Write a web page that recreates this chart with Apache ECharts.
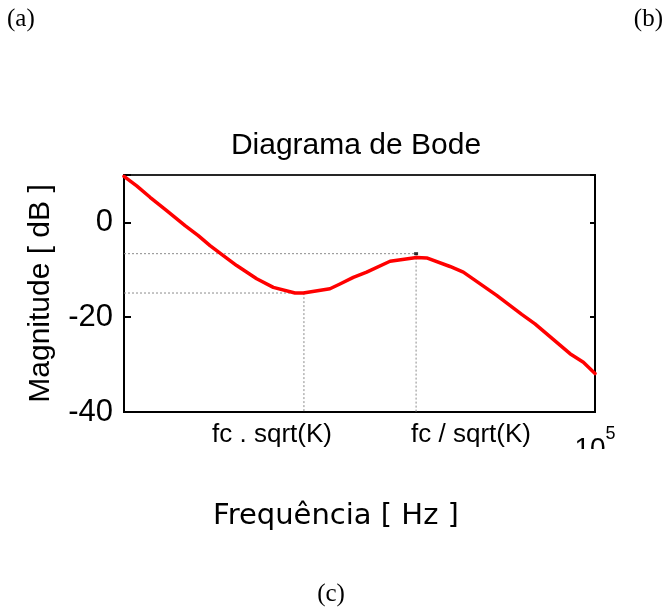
<!DOCTYPE html>
<html>
<head>
<meta charset="utf-8">
<script src="https://cdn.jsdelivr.net/npm/echarts@6/dist/echarts.min.js"></script>
<style>
  html, body { margin: 0; padding: 0; background: #fff; }
  #chart { width: 668px; height: 612px; }
</style>
</head>
<body>
<div id="chart"></div>
<script>
// ---- data ----
const freqHz = [10000, 10640, 11360, 12320, 13480, 14380, 15230, 16250, 17350, 19130, 20750,
                23070, 24030, 27370, 28740, 30680, 32750, 36720, 41820, 43920, 49220, 52530,
                61840, 69890, 74570, 88500, 94460, 100000];
const magnitudeDb = [9.7, 7.7, 5.3, 2.5, -0.7, -2.8, -4.9, -7.0, -9.1, -11.9, -13.7,
                     -14.9, -14.9, -14.0, -13.0, -11.6, -10.5, -8.2, -7.4, -7.5, -9.3, -10.5,
                     -15.4, -19.4, -21.4, -27.7, -29.5, -31.9];
const fLow = 24100;      // fc . sqrt(K)
const fHigh = 41700;     // fc / sqrt(K)
const magMin = -14.9;    // dB at fc . sqrt(K)
const magMax = -6.6;     // dB at fc / sqrt(K)
const xMin = 10000, xMax = 100000;
const yMin = -40, yMax = 10, yStep = 20;
const titleText = 'Diagrama de Bode';
const yName = 'Magnitude [ dB ]';
const xName = 'Frequência [ Hz ]';
const markLabels = ['fc . sqrt(K)', 'fc / sqrt(K)'];
const panelLabels = ['(a)', '(b)', '(c)'];

const curve = freqHz.map((f, i) => [f, magnitudeDb[i]]);
const guideHigh = [[xMin, magMax], [fHigh, magMax], [fHigh, yMin]];
const guideLow = [[xMin, magMin], [fLow, magMin], [fLow, yMin]];

const sans = "'Liberation Sans', Arial, sans-serif";
const serif = "'Liberation Serif', 'Times New Roman', serif";

const chart = echarts.init(document.getElementById('chart'), null, { renderer: 'canvas' });
chart.setOption({
  backgroundColor: '#ffffff',
  animation: false,
  title: {
    text: titleText,
    left: 356, top: 131, padding: 0, textAlign: 'center',
    textStyle: { fontFamily: sans, fontSize: 30, fontWeight: 'normal', color: '#000' }
  },
  grid: {
    left: 124, right: 73, top: 175, bottom: 200,
    show: true, borderColor: '#262626', borderWidth: 2, backgroundColor: 'transparent'
  },
  xAxis: {
    type: 'log', logBase: 10, min: xMin, max: xMax,
    axisLine: { onZero: false, lineStyle: { color: '#000', width: 2 } },
    axisTick: { inside: true, length: 6, lineStyle: { color: '#000', width: 2 } },
    minorTick: { show: false },
    splitLine: { show: false },
    axisLabel: {
      margin: 13,
      formatter: v => (Math.abs(v - xMax) < 1 ? '{n|10}{e|5}' : ''),
      rich: {
        n: { fontFamily: sans, fontSize: 28, lineHeight: 48, color: '#000' },
        e: { fontFamily: sans, fontSize: 18, lineHeight: 18, verticalAlign: 'top', color: '#000' }
      }
    }
  },
  yAxis: [{
    type: 'value', min: yMin, max: yMax, interval: yStep,
    name: yName, nameLocation: 'middle', nameGap: 68,
    nameTextStyle: { fontFamily: sans, fontSize: 30, color: '#000' },
    axisLine: { onZero: false, lineStyle: { color: '#000', width: 2 } },
    axisTick: { inside: true, length: 7, lineStyle: { color: '#000', width: 2 } },
    splitLine: { show: false },
    axisLabel: {
      margin: 11, fontFamily: sans, fontSize: 31, color: '#000',
      formatter: v => (v === yMax ? '' : String(v))
    }
  }, {
    type: 'value', min: yMin, max: yMax, interval: yStep, position: 'right',
    axisLine: { show: true, onZero: false, lineStyle: { color: '#000', width: 2 } },
    axisTick: { show: true, inside: true, length: 5, lineStyle: { color: '#000', width: 2 } },
    splitLine: { show: false },
    axisLabel: { show: false }
  }],
  series: [
    {
      type: 'line', data: guideHigh, symbol: 'none', z: 2, silent: true,
      lineStyle: { color: '#8c8c8c', width: 1, type: [2, 2] }
    },
    {
      type: 'line', data: guideLow, symbol: 'none', z: 2, silent: true,
      lineStyle: { color: '#8c8c8c', width: 1, type: [2, 2] }
    },
    {
      type: 'scatter', data: [[fHigh, magMax]], symbol: 'rect', symbolSize: [4, 3], z: 3,
      itemStyle: { color: '#000' }, silent: true
    },
    {
      type: 'line', data: curve, symbol: 'none', z: 5, clip: true,
      lineStyle: { color: '#ff0000', width: 3.5, cap: 'round', join: 'round' }
    }
  ],
  graphic: [
    { type: 'text', z: 50, style: { text: panelLabels[0], x: 7, y: 19, textAlign: 'left', textVerticalAlign: 'middle', font: '25px ' + serif, fill: '#000' } },
    { type: 'text', z: 50, style: { text: panelLabels[1], x: 663, y: 19, textAlign: 'right', textVerticalAlign: 'middle', font: '25px ' + serif, fill: '#000' } },
    { type: 'text', z: 50, style: { text: panelLabels[2], x: 331, y: 594, textAlign: 'center', textVerticalAlign: 'middle', font: '25px ' + serif, fill: '#000' } },
    { type: 'text', z: 50, style: { text: markLabels[0], x: 272, y: 435, textAlign: 'center', textVerticalAlign: 'middle', font: '26px ' + sans, fill: '#000' } },
    { type: 'text', z: 50, style: { text: markLabels[1], x: 471, y: 435, textAlign: 'center', textVerticalAlign: 'middle', font: '26px ' + sans, fill: '#000' } },
    { type: 'text', z: 50, style: { text: xName, x: 336, y: 516, textAlign: 'center', textVerticalAlign: 'middle', font: "29px 'DejaVu Sans', Verdana, sans-serif", fill: '#000' } },
    { type: 'rect', z: 100, shape: { x: 560, y: 449, width: 75, height: 24 }, style: { fill: '#ffffff' }, silent: true }
  ]
});
</script>
</body>
</html>
